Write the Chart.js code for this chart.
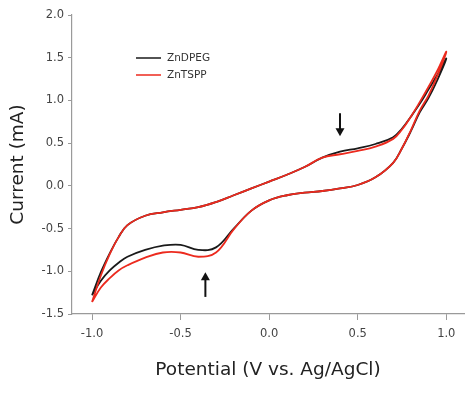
<!DOCTYPE html>
<html>
<head>
<meta charset="utf-8">
<script src="https://cdn.jsdelivr.net/npm/chart.js@4/dist/chart.umd.min.js"></script>
<style>
  html, body { margin: 0; padding: 0; background: #fff; }
</style>
</head>
<body>
<canvas id="cv" width="465" height="393"></canvas>
<script>
// scan potentials (V vs. Ag/AgCl), shared by both branches
const potential = [-1.0, -0.95, -0.9, -0.85, -0.8, -0.7, -0.6, -0.5, -0.4, -0.3, -0.2, -0.1, 0.0,
                   0.1, 0.2, 0.3, 0.4, 0.5, 0.6, 0.7, 0.75, 0.8, 0.85, 0.9, 0.95, 1.0];

// current (mA), upper branch then lower branch
const zndpegUpper = [-1.28, -1.01, -0.79, -0.60, -0.46, -0.35, -0.31, -0.28, -0.25, -0.19, -0.11, -0.03, 0.05,
                     0.13, 0.22, 0.33, 0.40, 0.44, 0.49, 0.57, 0.67, 0.81, 0.96, 1.13, 1.30, 1.49];
const zndpegLower = [-1.28, -1.11, -0.99, -0.90, -0.83, -0.75, -0.70, -0.69, -0.75, -0.72, -0.50, -0.29, -0.17,
                     -0.11, -0.08, -0.06, -0.03, 0.01, 0.10, 0.27, 0.44, 0.64, 0.86, 1.03, 1.24, 1.49];
const zntsppUpper = [-1.36, -1.05, -0.80, -0.60, -0.46, -0.35, -0.31, -0.28, -0.25, -0.19, -0.11, -0.03, 0.05,
                     0.13, 0.22, 0.33, 0.37, 0.41, 0.46, 0.55, 0.66, 0.81, 0.98, 1.16, 1.35, 1.57];
const zntsppLower = [-1.36, -1.19, -1.08, -0.99, -0.93, -0.84, -0.78, -0.78, -0.83, -0.78, -0.51, -0.29, -0.17,
                     -0.11, -0.08, -0.06, -0.03, 0.01, 0.10, 0.27, 0.44, 0.65, 0.88, 1.06, 1.29, 1.57];

const seriesNames = ['ZnDPEG', 'ZnTSPP'];
const yTicks = [-1.5, -1.0, -0.5, 0.0, 0.5, 1.0, 1.5, 2.0];
const xTicks = [-1.0, -0.5, 0.0, 0.5, 1.0];

// arrows marking the peaks: [potential, from current, to current]
const arrows = [[0.40, 0.85, 0.58], [-0.36, -1.30, -1.01]];

const FONT = '"DejaVu Sans", Verdana, sans-serif';

// go up along the upper branch, come back along the lower one
function loop(upper, lower) {
    const pts = potential.map((x, i) => ({x: x, y: upper[i]}));
    for (let i = potential.length - 2; i >= 0; i--) {
        pts.push({x: potential[i], y: lower[i]});
    }
    return pts;
}

const extras = {
    id: 'extras',
    afterDatasetsDraw(chart) {
        const ctx = chart.ctx;
        const xs = chart.scales.x, ys = chart.scales.y;
        ctx.save();
        // arrows
        ctx.strokeStyle = '#111';
        ctx.fillStyle = '#111';
        ctx.lineWidth = 2;
        arrows.forEach(a => {
            const x = xs.getPixelForValue(a[0]);
            const y0 = ys.getPixelForValue(a[1]);
            const y1 = ys.getPixelForValue(a[2]);
            const dir = y1 > y0 ? 1 : -1;
            ctx.beginPath();
            ctx.moveTo(x, y0);
            ctx.lineTo(x, y1 - dir * 6);
            ctx.stroke();
            ctx.beginPath();
            ctx.moveTo(x, y1);
            ctx.lineTo(x - 4.5, y1 - dir * 8);
            ctx.lineTo(x + 4.5, y1 - dir * 8);
            ctx.closePath();
            ctx.fill();
        });
        // legend
        const lx = chart.chartArea.left + 64;
        const ly = chart.chartArea.top + 43;
        ctx.font = '10.5px ' + FONT;
        ctx.textBaseline = 'middle';
        chart.data.datasets.forEach((ds, i) => {
            const y = ly + i * 17;
            ctx.strokeStyle = ds.borderColor;
            ctx.lineWidth = 1.5;
            ctx.beginPath();
            ctx.moveTo(lx, y);
            ctx.lineTo(lx + 25, y);
            ctx.stroke();
            ctx.fillStyle = '#333';
            ctx.fillText(ds.label, lx + 31, y);
        });
        ctx.restore();
    }
};

const axisGrey = '#9a9a9a';
const tickFont = {family: FONT, size: 11.5};

new Chart(document.getElementById('cv'), {
    type: 'scatter',
    data: {
        datasets: [{
            label: seriesNames[0],
            data: loop(zndpegUpper, zndpegLower),
            borderColor: '#1a1a1a',
            order: 1
        }, {
            label: seriesNames[1],
            data: loop(zntsppUpper, zntsppLower),
            borderColor: '#ec2a1e',
            order: 0
        }].map(d => Object.assign(d, {
            showLine: true,
            pointRadius: 0,
            borderWidth: 1.8,
            tension: 0.4,
            fill: false
        }))
    },
    plugins: [extras],
    options: {
        responsive: false,
        animation: false,
        layout: {padding: {top: 15, right: 1, left: 0, bottom: 0}},
        plugins: {legend: {display: false}, tooltip: {enabled: false}},
        scales: {
            x: {
                type: 'linear',
                min: -1.113,
                max: 1.1,
                afterBuildTicks: s => { s.ticks = xTicks.map(v => ({value: v})); },
                afterFit: s => { s.height = 79; },
                ticks: {
                    color: '#444',
                    font: tickFont,
                    padding: 7,
                    maxRotation: 0,
                    callback: v => v.toFixed(1)
                },
                grid: {drawOnChartArea: false, color: axisGrey, tickLength: 6, tickWidth: 1},
                border: {color: axisGrey, width: 1.2},
                title: {
                    display: true,
                    text: 'Potential (V vs. Ag/AgCl)',
                    color: '#222',
                    font: {family: FONT, size: 18.5},
                    padding: {top: 0, bottom: 12}
                }
            },
            y: {
                type: 'linear',
                min: -1.5,
                max: 2.0,
                afterBuildTicks: s => { s.ticks = yTicks.map(v => ({value: v})); },
                afterFit: s => { s.width = 72; },
                ticks: {
                    color: '#444',
                    font: tickFont,
                    padding: 4,
                    callback: v => v.toFixed(1)
                },
                grid: {drawOnChartArea: false, color: axisGrey, tickLength: 4, tickWidth: 1},
                border: {color: axisGrey, width: 1.2},
                title: {
                    display: true,
                    text: 'Current (mA)',
                    color: '#222',
                    font: {family: FONT, size: 18.5},
                    padding: {top: 7, bottom: 0}
                }
            }
        }
    }
});
</script>
</body>
</html>
